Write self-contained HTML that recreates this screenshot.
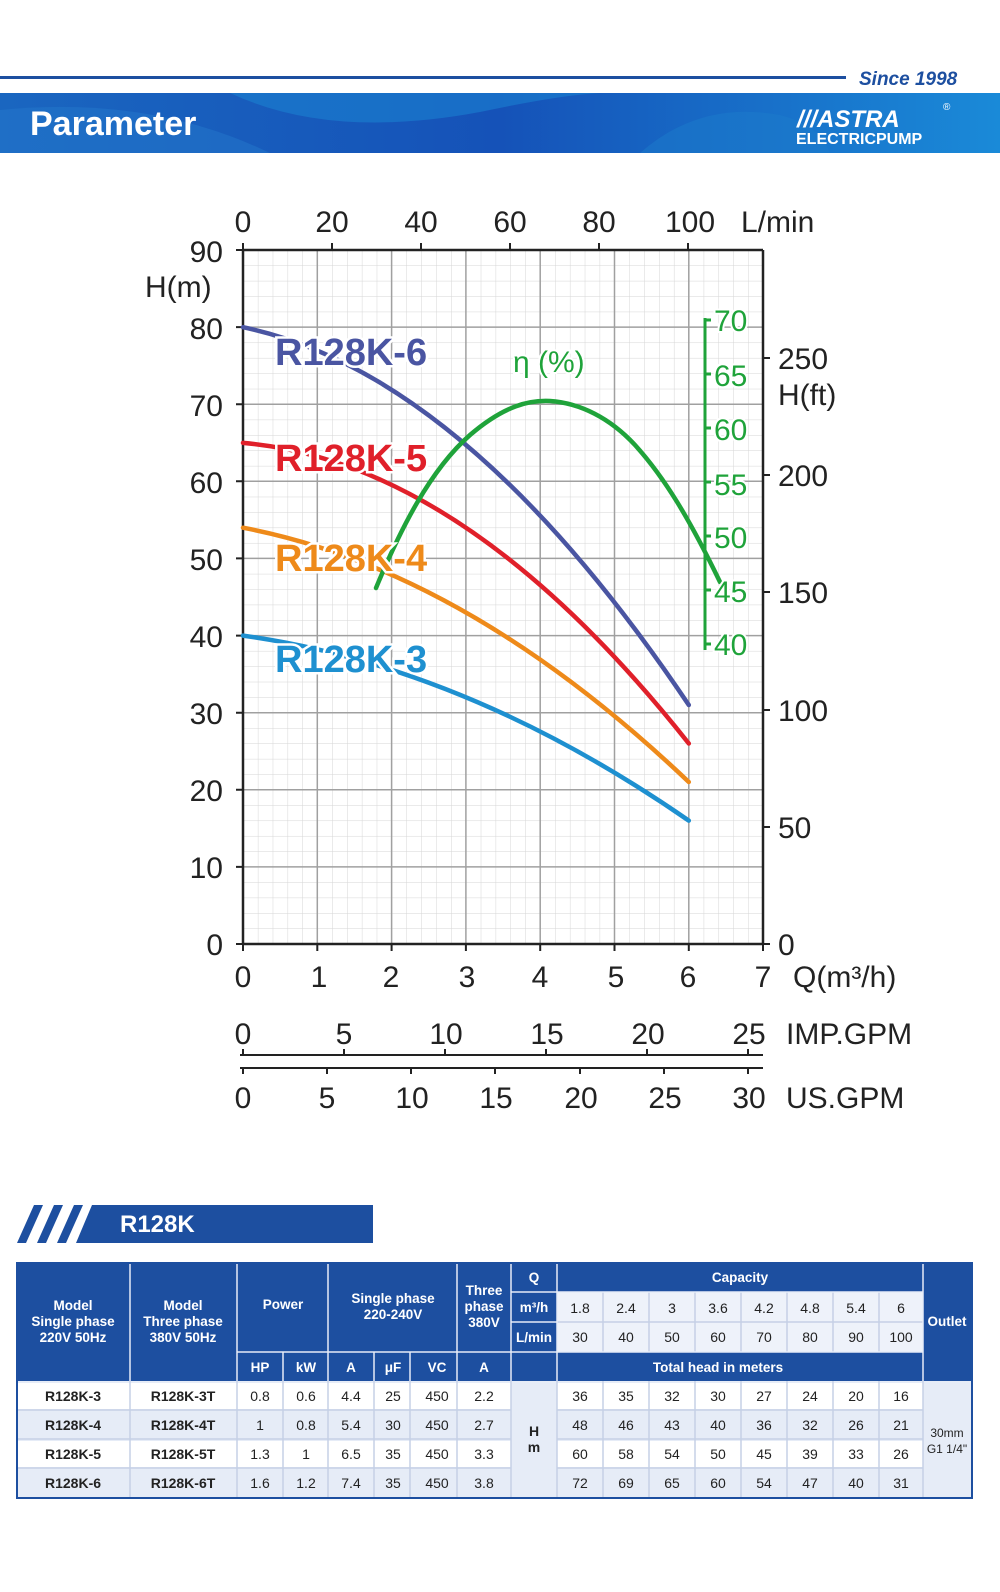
<!DOCTYPE html>
<html><head><meta charset="utf-8"><style>
html,body{margin:0;padding:0;background:#fff}
svg{display:block}
text{font-family:"Liberation Sans",sans-serif}
</style></head><body>
<svg width="1000" height="1592" viewBox="0 0 1000 1592" xmlns="http://www.w3.org/2000/svg">
<defs>
<linearGradient id="bg" x1="0" x2="1" y1="0" y2="0">
<stop offset="0" stop-color="#1a66c0"/><stop offset="0.5" stop-color="#1552b8"/><stop offset="1" stop-color="#1a8ad8"/>
</linearGradient>
<pattern id="minor" x="243" y="250" width="14.86" height="15.42" patternUnits="userSpaceOnUse">
<path d="M0 0V15.42M0 0H14.86" stroke="#d6d6d6" stroke-width="1" fill="none"/>
</pattern>
</defs>
<rect x="0" y="76" width="846" height="3" fill="#1d4fa0"/>
<text x="859" y="85" font-size="19" font-weight="bold" font-style="italic" fill="#1d4fa0">Since 1998</text>
<rect x="0" y="93" width="1000" height="60" fill="url(#bg)"/>
<path d="M230 93 Q330 140 480 112 Q560 95 600 93Z" fill="#1a80d0" opacity="0.6"/>
<path d="M0 153 L0 110 Q150 95 270 153Z" fill="#2478cc" opacity="0.5"/>
<path d="M640 153 Q700 100 780 115 Q820 125 830 153Z" fill="#1c7ccc" opacity="0.5"/>
<text x="30" y="135" font-size="34" font-weight="bold" fill="#fff">Parameter</text>
<text x="797" y="127" font-size="24" font-weight="bold" font-style="italic" fill="#fff">///ASTRA</text>
<text x="943" y="110" font-size="10" fill="#fff">®</text>
<text x="796" y="144" font-size="16" font-weight="bold" fill="#fff">ELECTRICPUMP</text>

<rect x="243" y="250" width="520" height="694" fill="url(#minor)"/>
<g stroke="#a0a0a0" stroke-width="1.5">
<line x1="317.3" y1="250" x2="317.3" y2="944"/><line x1="391.6" y1="250" x2="391.6" y2="944"/>
<line x1="465.9" y1="250" x2="465.9" y2="944"/><line x1="540.2" y1="250" x2="540.2" y2="944"/>
<line x1="614.5" y1="250" x2="614.5" y2="944"/><line x1="688.8" y1="250" x2="688.8" y2="944"/>
<line x1="763" y1="250" x2="763" y2="944"/>
<line x1="243" y1="327.1" x2="763" y2="327.1"/><line x1="243" y1="404.2" x2="763" y2="404.2"/>
<line x1="243" y1="481.3" x2="763" y2="481.3"/><line x1="243" y1="558.4" x2="763" y2="558.4"/>
<line x1="243" y1="635.6" x2="763" y2="635.6"/><line x1="243" y1="712.7" x2="763" y2="712.7"/>
<line x1="243" y1="789.8" x2="763" y2="789.8"/><line x1="243" y1="866.9" x2="763" y2="866.9"/>
</g>
<g stroke="#222" stroke-width="2.5" fill="none">
<line x1="243" y1="250" x2="763" y2="250"/><line x1="243" y1="944" x2="763" y2="944"/>
<line x1="243" y1="250" x2="243" y2="944"/><line x1="763" y1="250" x2="763" y2="944"/>
</g>
<g stroke="#222" stroke-width="2">
<path d="M236 250H243M236 327.1H243M236 404.2H243M236 481.3H243M236 558.4H243M236 635.6H243M236 712.7H243M236 789.8H243M236 866.9H243M236 944H243"/>
<path d="M243 944V951M317.3 944V951M391.6 944V951M465.9 944V951M540.2 944V951M614.5 944V951M688.8 944V951M763 944V951"/>
<path d="M243 250V243M332 250V243M421 250V243M510 250V243M599 250V243M688 250V243"/>
<path d="M763 944H770M763 827H770M763 710H770M763 592H770M763 475H770M763 358H770"/>
</g>
<g font-size="30" fill="#222">
<g text-anchor="end">
<text x="223" y="262">90</text><text x="223" y="339">80</text><text x="223" y="416">70</text>
<text x="223" y="493">60</text><text x="223" y="570">50</text><text x="223" y="647">40</text>
<text x="223" y="724">30</text><text x="223" y="801">20</text><text x="223" y="878">10</text><text x="223" y="955">0</text>
</g>
<text x="145" y="297">H(m)</text>
<g text-anchor="middle">
<text x="243" y="232">0</text><text x="332" y="232">20</text><text x="421" y="232">40</text>
<text x="510" y="232">60</text><text x="599" y="232">80</text><text x="690" y="232">100</text>
<text x="243" y="987">0</text><text x="319" y="987">1</text><text x="391" y="987">2</text><text x="467" y="987">3</text>
<text x="540" y="987">4</text><text x="616" y="987">5</text><text x="688" y="987">6</text><text x="763" y="987">7</text>
</g>
<text x="741" y="232">L/min</text>
<text x="793" y="987">Q(m³/h)</text>
<text x="778" y="955">0</text><text x="778" y="838">50</text><text x="778" y="721">100</text>
<text x="778" y="603">150</text><text x="778" y="486">200</text><text x="778" y="369">250</text>
<text x="778" y="405">H(ft)</text>
</g>
<g fill="none" stroke-width="4.5" stroke-linecap="round">
<path stroke="#4a55a2" d="M243 327.2 Q465.9 373.5 688.8 705"/>
<path stroke="#e0202a" d="M243 442.9 Q465.9 462.1 688.8 743.5"/>
<path stroke="#ee8a1a" d="M243 527.7 Q465.9 570.1 688.8 782"/>
<path stroke="#1e90d0" d="M243 635.6 Q465.9 666.4 688.8 820.6"/>
<path stroke="#1fa33a" d="M376 588 C400 530 430 470 470 435 C505 405 530 400 550 401 C580 403 610 418 635 445 C665 478 690 520 720 582"/>
</g>
<g stroke="#1fa33a" stroke-width="3">
<line x1="705" y1="318" x2="705" y2="650"/>
<path d="M705 320H711M705 374H711M705 428H711M705 482H711M705 536H711M705 590H711M705 644H711"/>
</g>
<g font-size="30" fill="#1fa33a" stroke="#fff" stroke-width="4" paint-order="stroke">
<text x="714" y="331">70</text><text x="714" y="386">65</text><text x="714" y="440">60</text>
<text x="714" y="495">55</text><text x="714" y="548">50</text><text x="714" y="602">45</text><text x="714" y="655">40</text>
<text x="513" y="372">η (%)</text>
</g>
<g font-size="38" font-weight="bold" stroke="#fff" stroke-width="5" paint-order="stroke">
<text x="275" y="365" fill="#4a55a2">R128K-6</text>
<text x="275" y="471" fill="#e0202a">R128K-5</text>
<text x="275" y="571" fill="#ee8a1a">R128K-4</text>
<text x="275" y="672" fill="#1e90d0">R128K-3</text>
</g>
<g stroke="#222" stroke-width="2">
<line x1="240" y1="1055" x2="763" y2="1055"/>
<line x1="240" y1="1068" x2="763" y2="1068"/>
<path d="M243 1055V1049M344 1055V1049M445 1055V1049M546 1055V1049M647 1055V1049M748 1055V1049"/>
<path d="M243 1068V1074M327 1068V1074M411 1068V1074M495 1068V1074M580 1068V1074M664 1068V1074M748 1068V1074"/>
</g>
<g font-size="30" fill="#222" text-anchor="middle">
<text x="243" y="1044">0</text><text x="344" y="1044">5</text><text x="446" y="1044">10</text>
<text x="547" y="1044">15</text><text x="648" y="1044">20</text><text x="749" y="1044">25</text>
<text x="243" y="1108">0</text><text x="327" y="1108">5</text><text x="412" y="1108">10</text>
<text x="496" y="1108">15</text><text x="581" y="1108">20</text><text x="665" y="1108">25</text><text x="749" y="1108">30</text>
</g>
<g font-size="30" fill="#222">
<text x="786" y="1044">IMP.GPM</text><text x="786" y="1108">US.GPM</text>
</g>
<path d="M98 1205H373V1243H80Z" fill="#1d4fa0"/>
<path d="M34 1205H43L26 1243H17Z M54 1205H63L46 1243H37Z M74 1205H83L66 1243H57Z M92 1205H100L82 1243H76Z" fill="#1d4fa0"/>
<text x="120" y="1232" font-size="24" font-weight="bold" fill="#fff">R128K</text>
<rect x="17" y="1263" width="955" height="118" fill="#1d4fa0"/>
<rect x="557" y="1292" width="366" height="60" fill="#eef2fa"/>
<rect x="17" y="1381" width="955" height="117" fill="#e6ecf7"/>
<g fill="#fff">
<rect x="18" y="1383" width="493" height="26"/><rect x="18" y="1441" width="493" height="26"/>
<rect x="557" y="1383" width="366" height="26"/><rect x="557" y="1441" width="366" height="26"/>
</g>
<g stroke="#c5d0e6" stroke-width="1.5" fill="none">
<path d="M130 1381V1498M237 1381V1498M283 1381V1498M328 1381V1498M374 1381V1498M410 1381V1498M457 1381V1498M511 1381V1498M557 1381V1498M603 1292V1352M603 1381V1498M649 1292V1352M649 1381V1498M695 1292V1352M695 1381V1498M741 1292V1352M741 1381V1498M787 1292V1352M787 1381V1498M833 1292V1352M833 1381V1498M879 1292V1352M879 1381V1498M923 1381V1498"/>
<path d="M17 1410H511M17 1439H511M17 1468H511M557 1410H923M557 1439H923M557 1468H923M557 1322H923"/>
</g>
<g stroke="#e6ecf7" stroke-width="1.5">
<path d="M130 1263V1381M237 1263V1381M328 1263V1381M457 1263V1381M511 1263V1381M557 1263V1381M923 1263V1381M283 1352V1381M374 1352V1381M410 1352V1381M237 1352H923M511 1292H557M511 1322H557M557 1292H923"/>
</g>
<rect x="17" y="1263" width="955" height="235" fill="none" stroke="#1d4fa0" stroke-width="2"/>
<g font-size="13.5" font-weight="bold" fill="#fff" text-anchor="middle">
<text x="73" y="1310">Model</text><text x="73" y="1326">Single phase</text><text x="73" y="1342">220V 50Hz</text>
<text x="183" y="1310">Model</text><text x="183" y="1326">Three phase</text><text x="183" y="1342">380V 50Hz</text>
<text x="283" y="1309">Power</text>
<text x="393" y="1303">Single phase</text><text x="393" y="1319">220-240V</text>
<text x="484" y="1295">Three</text><text x="484" y="1311">phase</text><text x="484" y="1327">380V</text>
<text x="534" y="1282">Q</text><text x="534" y="1312">m³/h</text><text x="534" y="1342">L/min</text>
<text x="740" y="1282">Capacity</text>
<text x="947" y="1326">Outlet</text>
<text x="260" y="1372">HP</text><text x="306" y="1372">kW</text><text x="351" y="1372">A</text>
<text x="393" y="1372">μF</text><text x="437" y="1372">VC</text><text x="484" y="1372">A</text>
<text x="718" y="1372">Total head in meters</text>
</g>
<g font-size="14" fill="#222" text-anchor="middle">
<text x="580" y="1313">1.8</text><text x="626" y="1313">2.4</text><text x="672" y="1313">3</text><text x="718" y="1313">3.6</text>
<text x="764" y="1313">4.2</text><text x="810" y="1313">4.8</text><text x="856" y="1313">5.4</text><text x="901" y="1313">6</text>
<text x="580" y="1342">30</text><text x="626" y="1342">40</text><text x="672" y="1342">50</text><text x="718" y="1342">60</text>
<text x="764" y="1342">70</text><text x="810" y="1342">80</text><text x="856" y="1342">90</text><text x="901" y="1342">100</text>
</g>
<g font-size="14" fill="#222" text-anchor="middle">
<g font-weight="bold"><text x="73" y="1401">R128K-3</text><text x="183" y="1401">R128K-3T</text>
<text x="73" y="1430">R128K-4</text><text x="183" y="1430">R128K-4T</text>
<text x="73" y="1459">R128K-5</text><text x="183" y="1459">R128K-5T</text>
<text x="73" y="1488">R128K-6</text><text x="183" y="1488">R128K-6T</text>
<text x="534" y="1436">H</text><text x="534" y="1452">m</text></g>
<text x="260" y="1401">0.8</text><text x="306" y="1401">0.6</text><text x="351" y="1401">4.4</text><text x="393" y="1401">25</text><text x="437" y="1401">450</text><text x="484" y="1401">2.2</text>
<text x="260" y="1430">1</text><text x="306" y="1430">0.8</text><text x="351" y="1430">5.4</text><text x="393" y="1430">30</text><text x="437" y="1430">450</text><text x="484" y="1430">2.7</text>
<text x="260" y="1459">1.3</text><text x="306" y="1459">1</text><text x="351" y="1459">6.5</text><text x="393" y="1459">35</text><text x="437" y="1459">450</text><text x="484" y="1459">3.3</text>
<text x="260" y="1488">1.6</text><text x="306" y="1488">1.2</text><text x="351" y="1488">7.4</text><text x="393" y="1488">35</text><text x="437" y="1488">450</text><text x="484" y="1488">3.8</text>
<text x="580" y="1401">36</text><text x="626" y="1401">35</text><text x="672" y="1401">32</text><text x="718" y="1401">30</text><text x="764" y="1401">27</text><text x="810" y="1401">24</text><text x="856" y="1401">20</text><text x="901" y="1401">16</text>
<text x="580" y="1430">48</text><text x="626" y="1430">46</text><text x="672" y="1430">43</text><text x="718" y="1430">40</text><text x="764" y="1430">36</text><text x="810" y="1430">32</text><text x="856" y="1430">26</text><text x="901" y="1430">21</text>
<text x="580" y="1459">60</text><text x="626" y="1459">58</text><text x="672" y="1459">54</text><text x="718" y="1459">50</text><text x="764" y="1459">45</text><text x="810" y="1459">39</text><text x="856" y="1459">33</text><text x="901" y="1459">26</text>
<text x="580" y="1488">72</text><text x="626" y="1488">69</text><text x="672" y="1488">65</text><text x="718" y="1488">60</text><text x="764" y="1488">54</text><text x="810" y="1488">47</text><text x="856" y="1488">40</text><text x="901" y="1488">31</text>
<text x="947" y="1437" font-size="12">30mm</text><text x="947" y="1453" font-size="12">G1 1/4"</text>
</g>
</svg>
</body></html>
